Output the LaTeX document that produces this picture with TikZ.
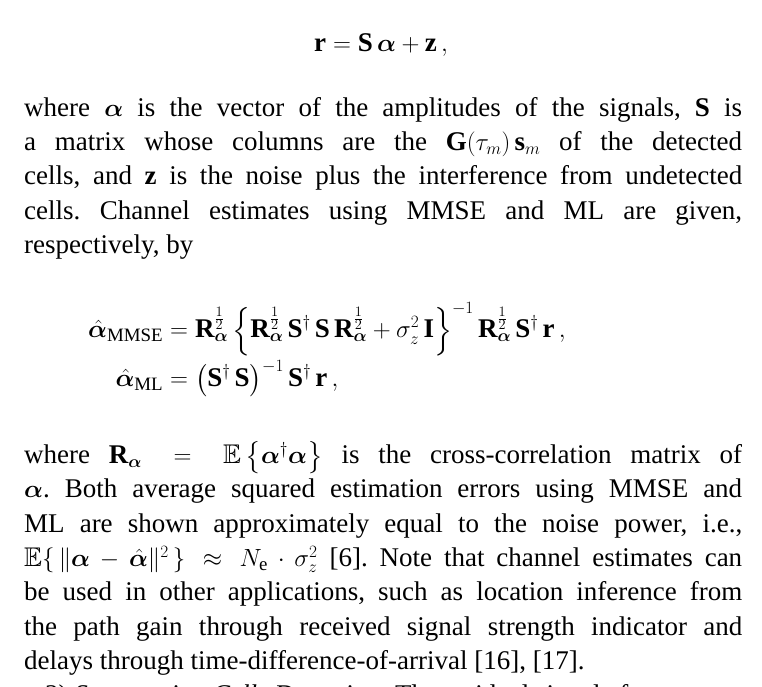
\documentclass[tikz,border=0pt]{standalone}
\usepackage{amsmath,amssymb,bm}
\usepackage{fontspec}
\setmainfont{Liberation Serif}
\frenchspacing
\begin{document}
\begin{tikzpicture}[x=1pt,y=1pt,
  para/.style={anchor=north west,inner sep=0pt,text width=718pt,align=justify,font=\fontsize{27}{34.3}\selectfont\sloppy},
  eq/.style={inner sep=0pt,font=\fontsize{27}{34.3}\selectfont}]
\clip (0,0) rectangle (762,-686);
\useasboundingbox (0,0) rectangle (762,-686);
\node[eq] (e1) at (381,-45) {$\mathbf r = \mathbf S\,\bm\alpha + \mathbf z\,,$};
\node[para] (p1) at (24,-97) {where $\bm\alpha$ is the vector of the amplitudes of the signals, $\mathbf S$ is\linebreak a matrix whose columns are the $\mathbf G(\tau_m)\,\mathbf s_m$ of the detected\linebreak cells, and $\mathbf z$ is the noise plus the interference from undetected\linebreak cells. Channel estimates using MMSE and ML are given,\linebreak respectively, by};
\node[eq,anchor=west] (e2) at (88,-350) {$\displaystyle\begin{aligned}
\hat{\bm\alpha}_{\text{MMSE}} &= \mathbf R_{\bm\alpha}^{\frac12}\left\{\mathbf R_{\bm\alpha}^{\frac12}\,\mathbf S^\dagger\,\mathbf S\,\mathbf R_{\bm\alpha}^{\frac12}+\sigma_z^2\,\mathbf I\right\}^{-1}\mathbf R_{\bm\alpha}^{\frac12}\,\mathbf S^\dagger\,\mathbf r\,,\\
\hat{\bm\alpha}_{\text{ML}} &= \left(\mathbf S^\dagger\,\mathbf S\right)^{-1}\mathbf S^\dagger\,\mathbf r\,,
\end{aligned}$};
\node[para] (p2) at (24,-441) {where $\mathbf R_{\bm\alpha} = \mathbb E\left\{\bm\alpha^\dagger\bm\alpha\right\}$ is the cross-correlation matrix of\linebreak $\bm\alpha$. Both average squared estimation errors using MMSE and\linebreak ML are shown approximately equal to the noise power, i.e.,\linebreak $\mathbb E\{\,\|\bm\alpha-\hat{\bm\alpha}\|^2\,\}\approx N_{\mathrm e}\cdot\sigma_z^2$ [6]. Note that channel estimates can\linebreak be used in other applications, such as location inference from\linebreak the path gain through received signal strength indicator and\linebreak delays through time-difference-of-arrival [16], [17].\par
\hspace*{21pt}2) \textit{Suppressing Cells Detection:} The residual signal after};
\end{tikzpicture}
\end{document}
